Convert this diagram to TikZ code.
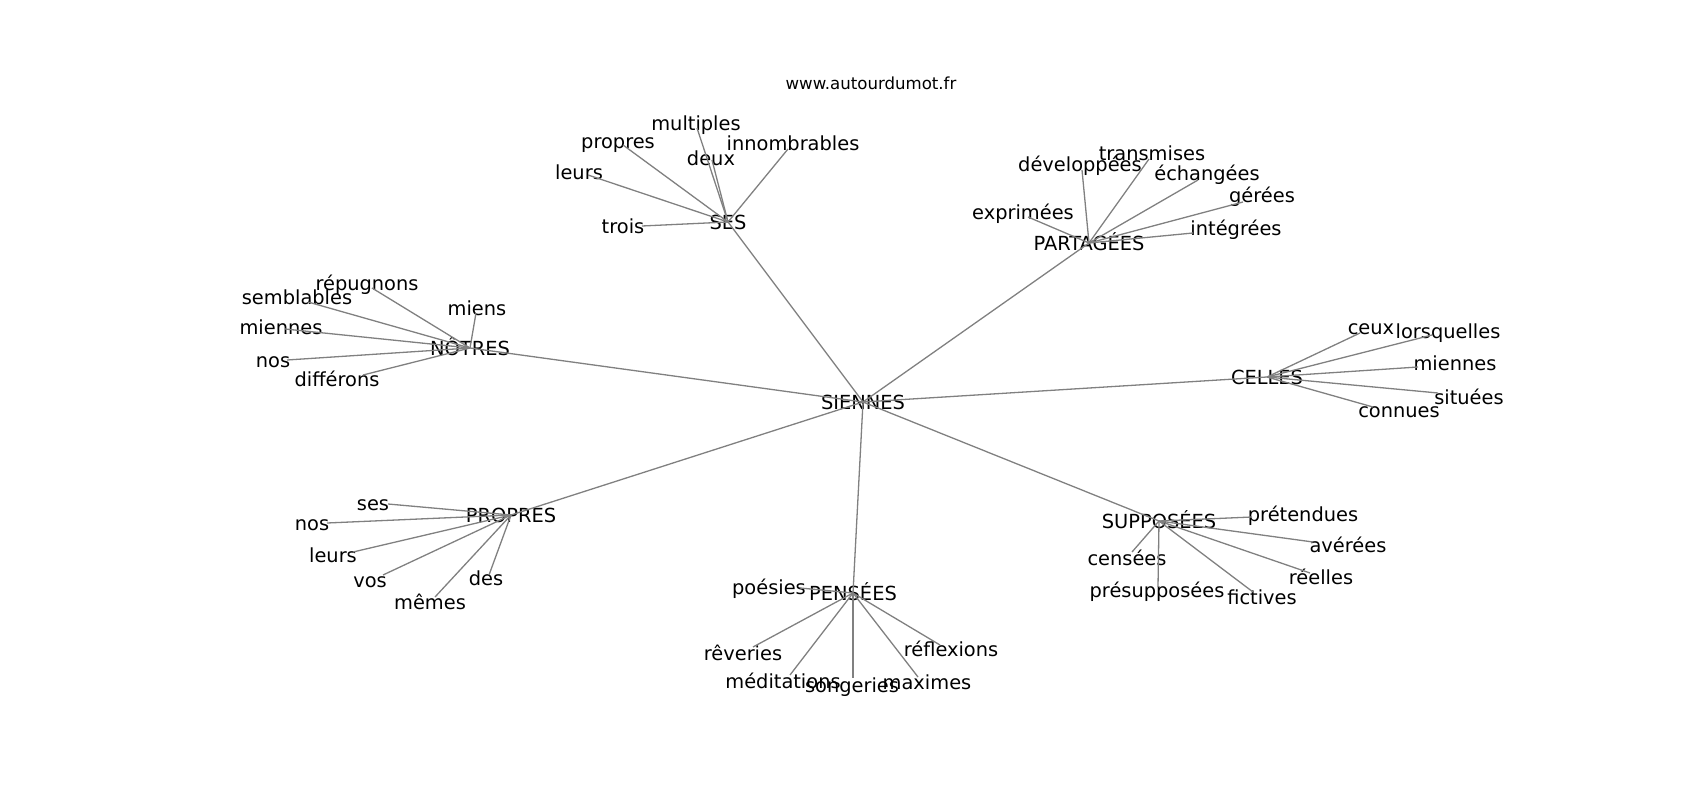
\documentclass[tikz,border=0pt]{standalone}
\usepackage{fontspec}
\setmainfont{DejaVu Sans}
\tikzset{
  word/.style={font=\fontsize{19.4}{23}\selectfont, inner sep=0pt, text height=14.1pt, text depth=0pt},
  site/.style={font=\fontsize{16.6}{20}\selectfont, inner sep=0pt, text height=12.1pt, text depth=0pt},
  link/.style={draw=gray, line width=1.3pt},
}

\begin{document}
\begin{tikzpicture}[x=1pt,y=-1pt]
   \useasboundingbox (0,0) rectangle (1700,800);
   \node[site] (url) at (871,83) {www.autourdumot.fr};

   % hubs
   \node[word] (sien) at (863,402) {SIENNES};
   \node[word] (ses) at (728,222) {SES};
   \node[word] (part) at (1089,243) {PARTAGÉES};
   \node[word] (notr) at (470,348) {NÔTRES};
   \node[word] (cell) at (1267,377) {CELLES};
   \node[word] (prop) at (511,515) {PROPRES};
   \node[word] (pens) at (853,593) {PENSÉES};
   \node[word] (supp) at (1159,521) {SUPPOSÉES};

   % SES
   \node[word] (multiples) at (696,123) {multiples}; \coordinate (multiples-e) at (697,128);
   \node[word] (propres) at (618,141) {propres}; \coordinate (propres-e) at (623,145);
   \node[word] (innombrables) at (793,143) {innombrables}; \coordinate (innombrables-e) at (788,149);
   \node[word] (deux) at (711,158) {deux}; \coordinate (deux-e) at (712,160);
   \node[word] (leurs1) at (579,172) {leurs}; \coordinate (leurs1-e) at (588,175);
   \node[word] (trois) at (623,226) {trois}; \coordinate (trois-e) at (642,226);

   % PARTAGEES
   \node[word] (transmises) at (1152,153) {transmises}; \coordinate (transmises-e) at (1149,159);
   \node[word] (developpees) at (1080,164) {développées}; \coordinate (developpees-e) at (1082,170);
   \node[word] (echangees) at (1207,173) {échangées}; \coordinate (echangees-e) at (1198,180);
   \node[word] (gerees) at (1262,195) {gérées}; \coordinate (gerees-e) at (1243,202);
   \node[word] (exprimees) at (1023,212) {exprimées}; \coordinate (exprimees-e) at (1028,217);
   \node[word] (integrees) at (1236,228) {intégrées}; \coordinate (integrees-e) at (1193,233);

   % NOTRES
   \node[word] (repugnons) at (367,283) {répugnons}; \coordinate (repugnons-e) at (372,288);
   \node[word] (semblables) at (297,297) {semblables}; \coordinate (semblables-e) at (308,302);
   \node[word] (miens) at (477,308) {miens}; \coordinate (miens-e) at (476,313);
   \node[word] (miennes1) at (281,327) {miennes}; \coordinate (miennes1-e) at (285,329);
   \node[word] (nos1) at (273,360) {nos}; \coordinate (nos1-e) at (287,360);
   \node[word] (differons) at (337,379) {différons}; \coordinate (differons-e) at (363,375);

   % CELLES
   \node[word] (ceux) at (1371,327) {ceux}; \coordinate (ceux-e) at (1360,333);
   \node[word] (lorsquelles) at (1448,331) {lorsquelles}; \coordinate (lorsquelles-e) at (1432,335);
   \node[word] (miennes2) at (1455,363) {miennes}; \coordinate (miennes2-e) at (1418,367);
   \node[word] (situees) at (1469,397) {situées}; \coordinate (situees-e) at (1438,393);
   \node[word] (connues) at (1399,410) {connues}; \coordinate (connues-e) at (1373,407);

   % PROPRES
   \node[word] (ses2) at (373,503) {ses}; \coordinate (ses2-e) at (388,504);
   \node[word] (nos2) at (312,523) {nos}; \coordinate (nos2-e) at (327,523);
   \node[word] (leurs2) at (333,555) {leurs}; \coordinate (leurs2-e) at (353,552);
   \node[word] (vos) at (370,580) {vos}; \coordinate (vos-e) at (383,575);
   \node[word] (des) at (486,578) {des}; \coordinate (des-e) at (489,575);
   \node[word] (memes) at (430,602) {mêmes}; \coordinate (memes-e) at (435,597);

   % PENSEES
   \node[word] (poesies) at (769,587) {poésies}; \coordinate (poesies-e) at (800,588);
   \node[word] (reveries) at (743,653) {rêveries}; \coordinate (reveries-e) at (753,647);
   \node[word] (reflexions) at (951,649) {réflexions}; \coordinate (reflexions-e) at (940,645);
   \node[word] (meditations) at (783,681) {méditations}; \coordinate (meditations-e) at (790,675);
   \node[word] (songeries) at (852,685) {songeries}; \coordinate (songeries-e) at (853,678);
   \node[word] (maximes) at (927,682) {maximes}; \coordinate (maximes-e) at (918,677);

   % SUPPOSEES
   \node[word] (pretendues) at (1303,514) {prétendues}; \coordinate (pretendues-e) at (1252,517);
   \node[word] (averees) at (1348,545) {avérées}; \coordinate (averees-e) at (1313,542);
   \node[word] (censees) at (1127,558) {censées}; \coordinate (censees-e) at (1132,552);
   \node[word] (reelles) at (1321,577) {réelles}; \coordinate (reelles-e) at (1310,573);
   \node[word] (presupposees) at (1157,590) {présupposées}; \coordinate (presupposees-e) at (1158,587);
   \node[word] (fictives) at (1262,597) {fictives}; \coordinate (fictives-e) at (1253,592);

   % edges
   \draw[link] (sien.center) -- (ses.center);
   \draw[link] (sien.center) -- (part.center);
   \draw[link] (sien.center) -- (notr.center);
   \draw[link] (sien.center) -- (cell.center);
   \draw[link] (sien.center) -- (prop.center);
   \draw[link] (sien.center) -- (pens.center);
   \draw[link] (sien.center) -- (supp.center);

   \draw[link] (ses.center) -- (multiples-e);
   \draw[link] (ses.center) -- (propres-e);
   \draw[link] (ses.center) -- (innombrables-e);
   \draw[link] (ses.center) -- (deux-e);
   \draw[link] (ses.center) -- (leurs1-e);
   \draw[link] (ses.center) -- (trois-e);

   \draw[link] (part.center) -- (transmises-e);
   \draw[link] (part.center) -- (developpees-e);
   \draw[link] (part.center) -- (echangees-e);
   \draw[link] (part.center) -- (gerees-e);
   \draw[link] (part.center) -- (exprimees-e);
   \draw[link] (part.center) -- (integrees-e);

   \draw[link] (notr.center) -- (repugnons-e);
   \draw[link] (notr.center) -- (semblables-e);
   \draw[link] (notr.center) -- (miens-e);
   \draw[link] (notr.center) -- (miennes1-e);
   \draw[link] (notr.center) -- (nos1-e);
   \draw[link] (notr.center) -- (differons-e);

   \draw[link] (cell.center) -- (ceux-e);
   \draw[link] (cell.center) -- (lorsquelles-e);
   \draw[link] (cell.center) -- (miennes2-e);
   \draw[link] (cell.center) -- (situees-e);
   \draw[link] (cell.center) -- (connues-e);

   \draw[link] (prop.center) -- (ses2-e);
   \draw[link] (prop.center) -- (nos2-e);
   \draw[link] (prop.center) -- (leurs2-e);
   \draw[link] (prop.center) -- (vos-e);
   \draw[link] (prop.center) -- (des-e);
   \draw[link] (prop.center) -- (memes-e);

   \draw[link] (pens.center) -- (poesies-e);
   \draw[link] (pens.center) -- (reveries-e);
   \draw[link] (pens.center) -- (reflexions-e);
   \draw[link] (pens.center) -- (meditations-e);
   \draw[link] (pens.center) -- (songeries-e);
   \draw[link] (pens.center) -- (maximes-e);

   \draw[link] (supp.center) -- (pretendues-e);
   \draw[link] (supp.center) -- (averees-e);
   \draw[link] (supp.center) -- (censees-e);
   \draw[link] (supp.center) -- (reelles-e);
   \draw[link] (supp.center) -- (presupposees-e);
   \draw[link] (supp.center) -- (fictives-e);
  \end{tikzpicture}
\end{document}
